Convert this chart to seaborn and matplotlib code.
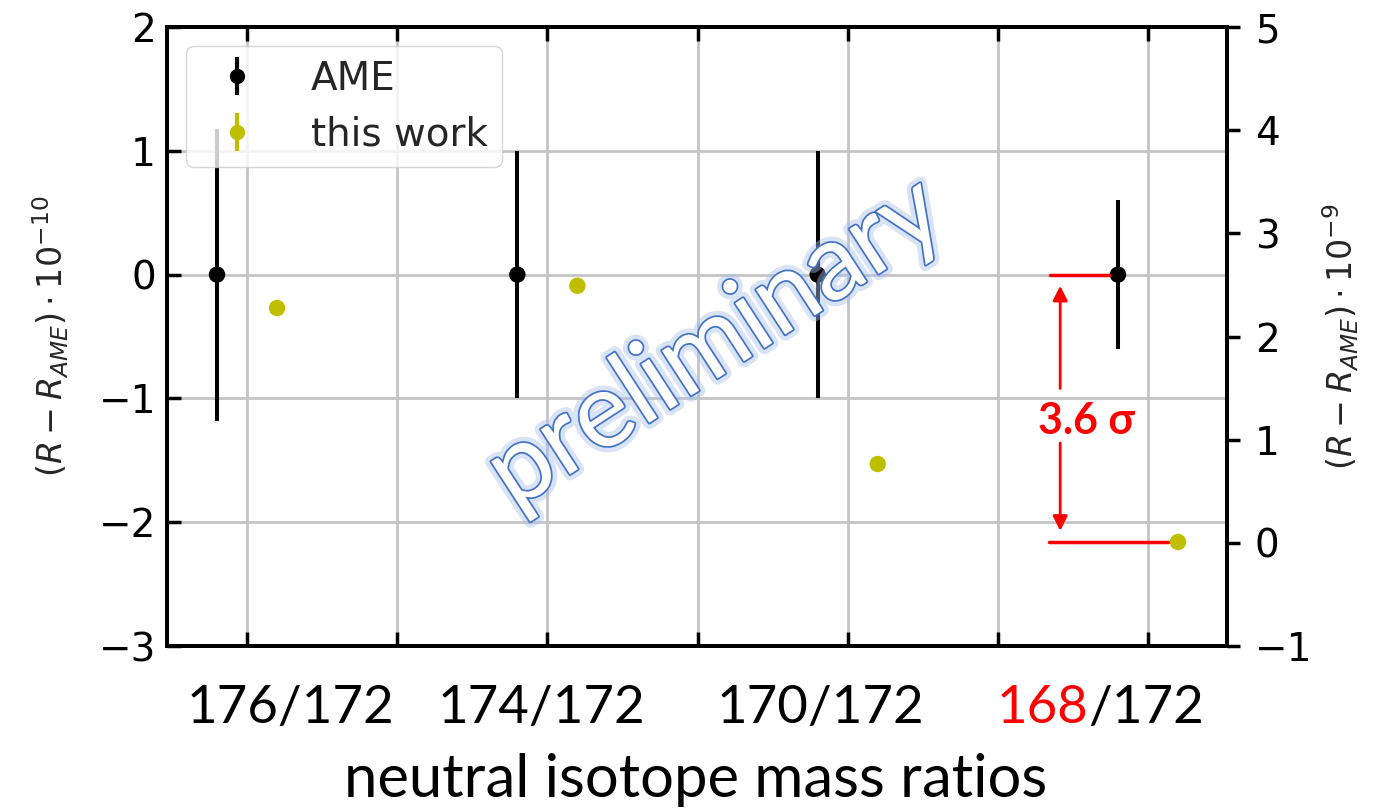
import matplotlib
matplotlib.use("Agg")
import matplotlib.pyplot as plt
import matplotlib.patheffects as pe
from matplotlib.lines import Line2D
from matplotlib.legend_handler import HandlerTuple
import numpy as np
import pandas as pd
import seaborn as sns

# isotope pairs and the x positions of the two series
ratio_heavy = ["176", "174", "170", "168"]
ratio_ref = "172"
ame_pos = [0.8, 2.8, 4.8, 6.8]
work_pos = [1.2, 3.2, 5.2, 7.2]

# deviations (R - R_AME) in units of 1e-10
ame_val = [0.0, 0.0, 0.0, 0.0]
ame_err = [1.18, 1.0, 1.0, 0.6]
work_val = [-0.27, -0.09, -1.53, -2.16]
work_err = [0.04, 0.04, 0.04, 0.04]

left_ticks = [-3, -2, -1, 0, 1, 2]
right_ticks = [-1, 0, 1, 2, 3, 4, 5]
grid_x = [1, 2, 3, 4, 5, 6, 7]

AME_COLOR = "black"
WORK_COLOR = "#bfbf00"

sns.set_theme(style="whitegrid", rc={
    "axes.edgecolor": "black",
    "axes.linewidth": 2.8,
    "grid.color": "#c4c4c4",
    "grid.linewidth": 2.0,
    "xtick.color": "black",
    "ytick.color": "black",
})
plt.rcParams["font.family"] = ["DejaVu Sans"]

fig = plt.figure(figsize=(13.83, 8.09), dpi=100)
ax = fig.add_axes([167 / 1383, 1 - 646 / 809, 1060 / 1383, 619 / 809])

df = pd.DataFrame({
    "pos": ame_pos + work_pos,
    "val": ame_val + work_val,
    "series": ["AME"] * 4 + ["this work"] * 4,
})

ax.errorbar(ame_pos, ame_val, yerr=ame_err, fmt="none", ecolor=AME_COLOR,
            elinewidth=2.9, zorder=3)
ax.errorbar(work_pos, work_val, yerr=work_err, fmt="none", ecolor=WORK_COLOR,
            elinewidth=2.9, zorder=3)
sns.scatterplot(data=df, x="pos", y="val", hue="series",
                palette={"AME": AME_COLOR, "this work": WORK_COLOR},
                s=140, linewidth=0, legend=False, ax=ax, zorder=4)

ax.set_xlim(0.467, 7.526)
ax.set_ylim(-3, 2)
ax.set_xticks(grid_x)
ax.set_xticklabels([])
ax.set_yticks(left_ticks)
ax.set_xlabel("")
ax.set_ylabel(r"$(R - R_{AME})\cdot 10^{-10}$", fontsize=24, labelpad=20)
ax.grid(True, axis="both")
ax.tick_params(axis="both", which="both", direction="in", length=10, width=2.5,
               top=True, bottom=True, left=True, right=True,
               labelsize=28, pad=8)
for s in ax.spines.values():
    s.set_visible(True)
    s.set_color("black")
    s.set_linewidth(2.8)

ax2 = ax.twinx()
ax2.set_ylim(-1, 5)
ax2.set_yticks(right_ticks)
ax2.grid(False)
ax2.tick_params(axis="y", direction="out", length=9, width=2.5, labelsize=28,
                pad=11, right=True)
ax2.set_ylabel(r"$(R - R_{AME})\cdot 10^{-9}$", fontsize=24, labelpad=6)
for s in ax2.spines.values():
    s.set_color("black")
    s.set_linewidth(2.8)

# legend with marker + error bar handles drawn on top of each other
ame_h = (Line2D([], [], marker="|", color=AME_COLOR, markersize=27, mew=3, ls="none"),
         Line2D([], [], marker="o", color=AME_COLOR, markersize=10, ls="none"))
work_h = (Line2D([], [], marker="|", color=WORK_COLOR, markersize=27, mew=3, ls="none"),
          Line2D([], [], marker="o", color=WORK_COLOR, markersize=10, ls="none"))
leg = ax.legend([ame_h, work_h], ["AME", "this work"],
                handler_map={tuple: HandlerTuple(ndivide=1)},
                loc="upper left", fontsize=28, frameon=True, fancybox=True,
                framealpha=0.8, edgecolor="0.8", handlelength=1.9,
                handletextpad=0.95, borderpad=0.35, labelspacing=0.45)
leg.set_zorder(5)

# significance of the 168/172 deviation
i = 3
sigma = (ame_val[i] - work_val[i]) / ame_err[i]
red = "#ff0000"
ax.plot([6.35, 6.74], [ame_val[i], ame_val[i]], color=red, lw=2.5, zorder=5)
ax.plot([6.34, 7.13], [work_val[i], work_val[i]], color=red, lw=2.5, zorder=5)
arrow = dict(arrowstyle="-|>", color=red, lw=2, mutation_scale=22,
             shrinkA=0, shrinkB=0)
ax.annotate("", xy=(6.415, ame_val[i] - 0.09), xytext=(6.415, -0.92),
            arrowprops=arrow, zorder=5)
ax.annotate("", xy=(6.415, work_val[i] + 0.09), xytext=(6.415, -1.36),
            arrowprops=arrow, zorder=5)
ax.text(6.59, -1.18, f"{sigma:.1f} σ", color=red, fontsize=31,
        fontweight="bold", ha="center", va="center",
        family=["Lato", "DejaVu Sans"], zorder=6)

# watermark
ax.text(4.12, -0.56, "preliminary", fontsize=76, color="white", rotation=33,
        rotation_mode="anchor", ha="center", va="center",
        family=["Lato", "DejaVu Sans"], zorder=6,
        path_effects=[pe.Stroke(linewidth=9, foreground="#a9c1ec", alpha=0.45),
                      pe.Stroke(linewidth=2.5, foreground="#4472C4"),
                      pe.Normal()])

# category labels under the axis
label_font = dict(fontsize=38, family=["Lato", "DejaVu Sans"])
base_y = 1 - 723 / 809
centers = [290, 541, 820]
for cx, heavy in zip(centers, ratio_heavy[:3]):
    fig.text(cx / 1383, base_y, f"{heavy}/{ratio_ref}", ha="center",
             va="baseline", color="black", **label_font)
split = 1088 / 1383
fig.text(split, base_y, ratio_heavy[3], ha="right", va="baseline",
         color=red, **label_font)
fig.text(split, base_y, f"/{ratio_ref}", ha="left", va="baseline",
         color="black", **label_font)
fig.text(696 / 1383, 1 - 797 / 809, "neutral isotope mass ratios",
         ha="center", va="baseline", color="black", fontsize=43,
         family=["Lato", "DejaVu Sans"])

fig.savefig("out.png", dpi=100)
